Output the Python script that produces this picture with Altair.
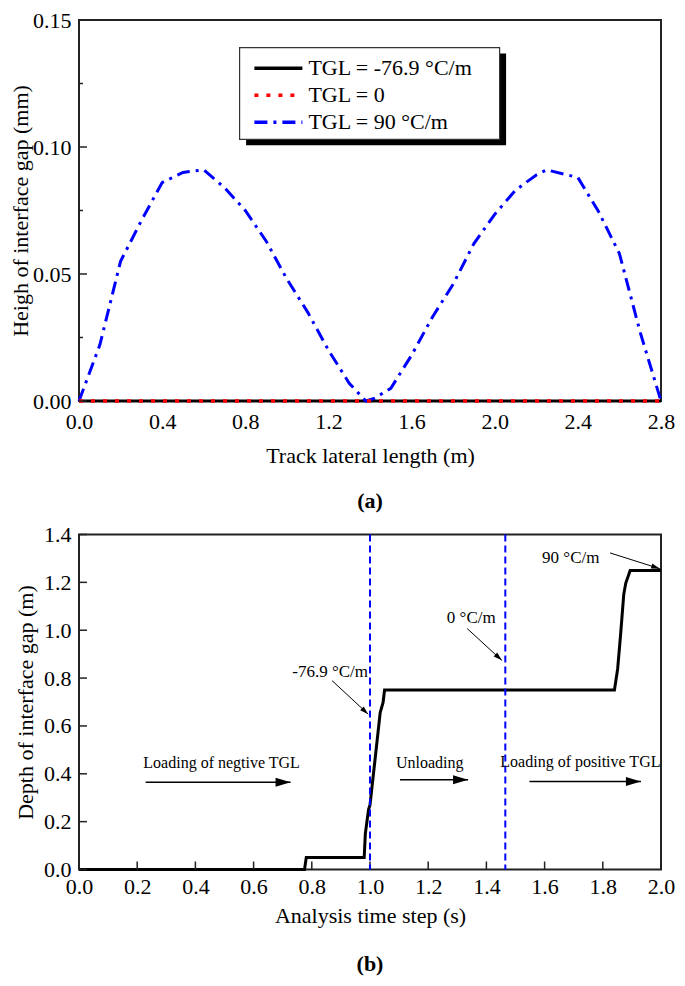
import math
import altair as alt
import pandas as pd

# ---------------- data: panel (a) ----------------
lat_x = [0.0, 0.1, 0.2, 0.3, 0.4, 0.5, 0.6, 0.7, 0.8, 0.9, 1.0, 1.1, 1.2, 1.3, 1.38,
         1.42, 1.5, 1.6, 1.7, 1.8, 1.9, 2.0, 2.1, 2.2, 2.25, 2.4, 2.5, 2.6, 2.7, 2.8]
gap_tgl_pos = [0.0, 0.022, 0.055, 0.071, 0.086, 0.090, 0.091, 0.084, 0.075, 0.063, 0.048,
               0.035, 0.020, 0.007, 0.0, 0.001, 0.005, 0.018, 0.033, 0.046, 0.062, 0.0735,
               0.083, 0.089, 0.091, 0.088, 0.0745, 0.058, 0.027, 0.0]
flat_x = [0.0, 2.8]
gap_tgl_neg = [0.0, 0.0]
gap_tgl_zero = [0.0, 0.0]
series_names = ["TGL = -76.9 °C/m", "TGL = 0", "TGL = 90 °C/m"]
series_colors = ["black", "red", "blue"]

ticks_a_x = [0.0, 0.4, 0.8, 1.2, 1.6, 2.0, 2.4, 2.8]
ticks_a_y = [0.0, 0.05, 0.10, 0.15]
ticks_a_y_minor = [0.025, 0.075, 0.125]

# ---------------- data: panel (b) ----------------
time_s = [0.0, 0.775, 0.781, 0.980, 0.984, 0.995, 1.000, 1.016, 1.035, 1.045, 1.050,
          1.840, 1.851, 1.861, 1.872, 1.879, 1.894, 2.000]
depth_m = [0.0, 0.0, 0.05, 0.05, 0.15, 0.25, 0.27, 0.445, 0.656, 0.698, 0.75,
           0.75, 0.838, 0.979, 1.15, 1.197, 1.25, 1.25]
marker_t = [1.0, 1.465]

note_text = ["-76.9 °C/m", "0 °C/m", "90 °C/m"]
note_x = [0.863, 1.348, 1.69]
note_y = [0.825, 1.053, 1.302]
pointer_x1 = [0.870, 1.334, 1.825]
pointer_y1 = [0.789, 1.007, 1.323]
pointer_x2 = [0.994, 1.453, 1.996]
pointer_y2 = [0.649, 0.874, 1.257]

phase_text = ["Loading of negtive TGL", "Unloading", "Loading of positive TGL"]
phase_x = [0.49, 1.205, 1.723]
phase_y = [0.445, 0.445, 0.448]
phase_x1 = [0.229, 1.103, 1.548]
phase_x2 = [0.727, 1.337, 1.931]
phase_arrow_y = [0.365, 0.375, 0.368]

ticks_b_x = [0.0, 0.2, 0.4, 0.6, 0.8, 1.0, 1.2, 1.4, 1.6, 1.8, 2.0]
ticks_b_y = [0.0, 0.2, 0.4, 0.6, 0.8, 1.0, 1.2, 1.4]

# ---------------- layout / style ----------------
FONT = "Liberation Serif"
WA, HA = 582, 381
WB, HB = 582, 335
AX = "#222222"
ARROW = "M0,0L-1,-0.3L-1,0.3Z"

xa = alt.Scale(domain=[0, 2.8], nice=False, zero=False)
ya = alt.Scale(domain=[0, 0.15], nice=False, zero=False)
xb = alt.Scale(domain=[0, 2.0], nice=False, zero=False)
yb = alt.Scale(domain=[0, 1.4], nice=False, zero=False)

legend = alt.Legend(
    title=None, orient="none", legendX=173.4, legendY=35,
    symbolType="stroke", symbolSize=2304, symbolStrokeWidth=3.5,
    labelFont=FONT, labelFontSize=22, labelColor="black", labelOffset=4,
    clipHeight=26.5, rowPadding=0, padding=0, labelLimit=400,
)
color_scale = alt.Scale(domain=series_names, range=series_colors)
dash_scale = alt.Scale(domain=series_names, range=[[1, 0], [4, 8], [13, 6, 3, 6]])

axis_xa = alt.Axis(title="Track lateral length (m)", values=ticks_a_x, format=".1f",
                   labelPadding=10, titlePadding=13, labelFlush=False)
axis_ya = alt.Axis(title="Heigh of interface gap (mm)", values=ticks_a_y, format=".2f",
                   labelPadding=8, titlePadding=0)


def series_layer(name, xs, ys, width):
    df = pd.DataFrame({"x": xs, "y": ys, "s": [name] * len(xs)})
    return alt.Chart(df).mark_line(strokeWidth=width, strokeCap="butt").encode(
        x=alt.X("x:Q", scale=xa, axis=axis_xa),
        y=alt.Y("y:Q", scale=ya, axis=axis_ya),
        color=alt.Color("s:N", scale=color_scale, legend=legend),
        strokeDash=alt.StrokeDash("s:N", scale=dash_scale, legend=legend),
    )


one = pd.DataFrame({"k": [0]})
shadow = alt.Chart(one).mark_rect(color="black").encode(
    x=alt.value(167.1), x2=alt.value(427.1), y=alt.value(33.6), y2=alt.value(125.3))
box = alt.Chart(one).mark_rect(fill="white", stroke="#333333", strokeWidth=1.2).encode(
    x=alt.value(160.6), x2=alt.value(420.6), y=alt.value(27.6), y2=alt.value(119.3))

tick_a_major = alt.Chart(pd.DataFrame({"v": ticks_a_y})).mark_rule(color=AX, strokeWidth=1.5).encode(
    y=alt.Y("v:Q", scale=ya, axis=axis_ya), x=alt.value(0), x2=alt.value(8))
tick_a_minor = alt.Chart(pd.DataFrame({"v": ticks_a_y_minor})).mark_rule(color=AX, strokeWidth=1.5).encode(
    y=alt.Y("v:Q", scale=ya, axis=axis_ya), x=alt.value(0), x2=alt.value(4))

chart_a = alt.layer(
    series_layer(series_names[0], flat_x, gap_tgl_neg, 3),
    series_layer(series_names[2], lat_x, gap_tgl_pos, 3),
    series_layer(series_names[1], flat_x, gap_tgl_zero, 3.5),
    tick_a_major, tick_a_minor, shadow, box,
).properties(
    width=WA, height=HA,
    title=alt.TitleParams("(a)", orient="bottom", anchor="middle", font=FONT,
                          fontSize=22, fontWeight="bold", offset=25, color="black"),
)

# ---------------- panel (b) ----------------
axis_xb = alt.Axis(title="Analysis time step (s)", values=ticks_b_x, format=".1f",
                   labelPadding=7, titlePadding=8, labelFlush=False)
axis_yb = alt.Axis(title="Depth of interface gap (m)", values=ticks_b_y, format=".1f",
                   labelPadding=8, titlePadding=6)


def XB(field):
    return alt.X(field, scale=xb, axis=axis_xb)


def YB(field):
    return alt.Y(field, scale=yb, axis=axis_yb)


line_b = alt.Chart(pd.DataFrame({"t": time_s, "d": depth_m})).mark_line(
    color="black", strokeWidth=3, strokeJoin="miter").encode(x=XB("t:Q"), y=YB("d:Q"))
vlines = alt.Chart(pd.DataFrame({"t": marker_t})).mark_rule(
    color="blue", strokeWidth=2, strokeDash=[7, 4]).encode(x=XB("t:Q"))


def px_angle(x1, y1, x2, y2):
    dx = (x2 - x1) * WB / 2.0
    dy = -(y2 - y1) * HB / 1.4
    return math.degrees(math.atan2(dy, dx)) % 360


ptr_df = pd.DataFrame({
    "x1": pointer_x1, "y1": pointer_y1, "x2": pointer_x2, "y2": pointer_y2,
    "a": [px_angle(a, b, c, d) for a, b, c, d in zip(pointer_x1, pointer_y1, pointer_x2, pointer_y2)],
})
ptr_lines = alt.Chart(ptr_df).mark_rule(color="black", strokeWidth=1).encode(
    x=XB("x1:Q"), y=YB("y1:Q"), x2="x2:Q", y2="y2:Q")
ptr_heads = alt.Chart(ptr_df).mark_point(shape=ARROW, filled=True, color="black",
                                         opacity=1, size=300, strokeWidth=0).encode(
    x=XB("x2:Q"), y=YB("y2:Q"), angle=alt.Angle("a:Q", scale=None))

ph_df = pd.DataFrame({"x1": phase_x1, "x2": phase_x2, "y": phase_arrow_y,
                      "a": [0.0] * len(phase_x1)})
ph_lines = alt.Chart(ph_df).mark_rule(color="black", strokeWidth=1.5).encode(
    x=XB("x1:Q"), x2="x2:Q", y=YB("y:Q"))
ph_heads = alt.Chart(ph_df).mark_point(shape=ARROW, filled=True, color="black",
                                       opacity=1, size=900, strokeWidth=0).encode(
    x=XB("x2:Q"), y=YB("y:Q"), angle=alt.Angle("a:Q", scale=None))

notes = alt.Chart(pd.DataFrame({"x": note_x, "y": note_y, "t": note_text})).mark_text(
    font=FONT, fontSize=17, color="black", align="center", baseline="middle").encode(
    x=XB("x:Q"), y=YB("y:Q"), text="t:N")
phases = alt.Chart(pd.DataFrame({"x": phase_x, "y": phase_y, "t": phase_text})).mark_text(
    font=FONT, fontSize=16, color="black", align="center", baseline="middle").encode(
    x=XB("x:Q"), y=YB("y:Q"), text="t:N")

tick_bx = alt.Chart(pd.DataFrame({"v": ticks_b_x})).mark_rule(color=AX, strokeWidth=1.5).encode(
    x=XB("v:Q"), y=alt.value(HB), y2=alt.value(HB - 8))
tick_by = alt.Chart(pd.DataFrame({"v": ticks_b_y})).mark_rule(color=AX, strokeWidth=1.5).encode(
    y=YB("v:Q"), x=alt.value(0), x2=alt.value(8))

chart_b = alt.layer(
    line_b, tick_bx, tick_by, vlines, ptr_lines, ptr_heads, ph_lines, ph_heads, notes, phases,
).properties(
    width=WB, height=HB,
    title=alt.TitleParams("(b)", orient="bottom", anchor="middle", font=FONT,
                          fontSize=22, fontWeight="bold", offset=27, color="black"),
)

chart = alt.concat(chart_a, chart_b, columns=1, spacing=9.5, align="none").resolve_legend(
    color="independent", strokeDash="independent"
).properties(
    padding={"left": 0, "top": 0, "right": 0, "bottom": 0},
).configure_view(
    stroke=AX, strokeWidth=2,
).configure_axis(
    labelFont=FONT, titleFont=FONT, labelFontSize=22, titleFontSize=22,
    labelColor="black", titleColor="black", titleFontWeight="normal",
    domain=False, ticks=False, grid=False,
)

chart.save("out.html", embed_options={"renderer": "svg", "actions": False})
